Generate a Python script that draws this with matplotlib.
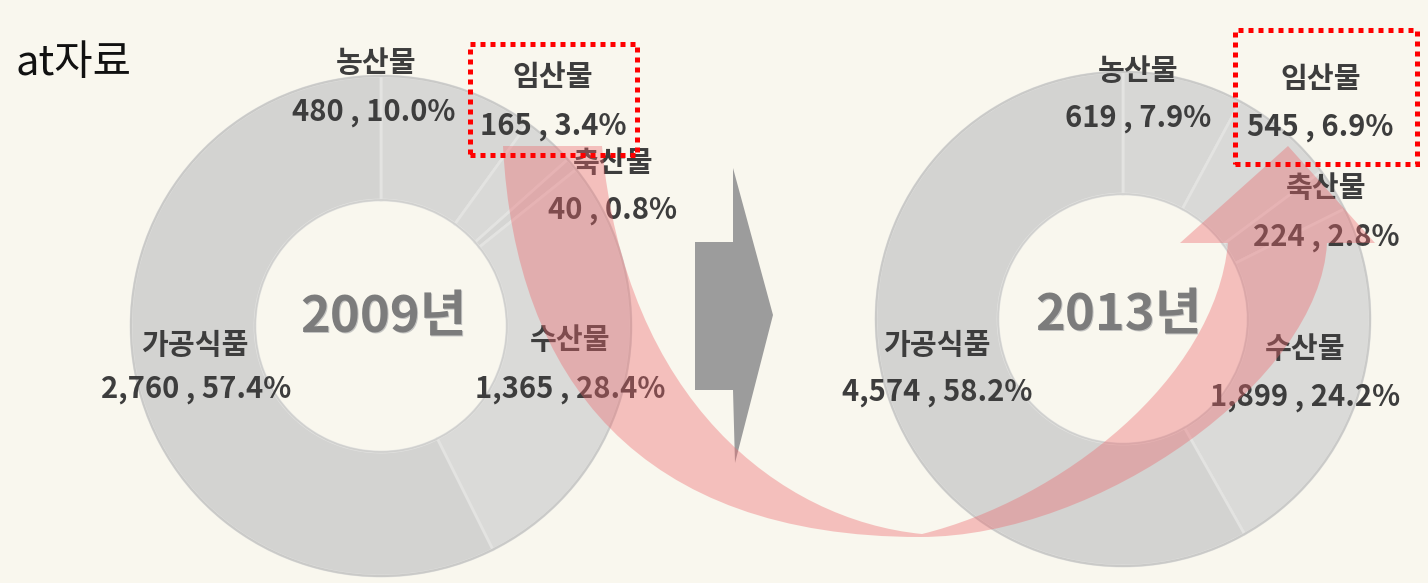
import matplotlib
matplotlib.use("Agg")
import matplotlib.pyplot as plt
from matplotlib.patches import Rectangle, Polygon, PathPatch, Circle
from matplotlib.path import Path

# ---------------- data ----------------
categories = ["농산물", "임산물", "축산물", "수산물", "가공식품"]
values_2009 = [480, 165, 40, 1365, 2760]
pct_2009 = [10.0, 3.4, 0.8, 28.4, 57.4]
values_2013 = [619, 545, 224, 1899, 4574]
pct_2013 = [7.9, 6.9, 2.8, 24.2, 58.2]
years = ["2009년", "2013년"]
source_label = "at자료"

# ---------------- layout (pixel coords, y downward) ----------------
W, H = 1428, 583
def Y(y):
    return H - y

donut_layout = [
    dict(center=(381, 326), radius=250, width=124,
         name_pos=[(376, 63), (553, 77), (613, 163), (570, 340), (195, 345)],
         val_pos=[(374, 112), (553, 126), (613, 210), (570, 389), (196, 389)],
         year_pos=(383, 317), box=(470, 44, 637, 155)),
    dict(center=(1123, 319), radius=247, width=122,
         name_pos=[(1138, 71), (1321, 79), (1326, 188), (1305, 349), (937, 345)],
         val_pos=[(1138, 118), (1320, 127), (1326, 237), (1305, 397), (937, 392)],
         year_pos=(1118, 315), box=(1235, 30, 1417, 164)),
]
wedge_colors = ["#d7d7d5", "#d9d9d7", "#d5d5d3", "#dadad8", "#d3d3d1"]
bg = "#f9f7ee"
text_color = "#3d3d3d"
FONT = ["Noto Sans CJK KR", "DejaVu Sans"]

fig = plt.figure(figsize=(W / 100, H / 100), dpi=100, facecolor=bg)
ax = fig.add_axes([0, 0, 1, 1])
ax.set_facecolor(bg)

datasets = [(values_2009, pct_2009), (values_2013, pct_2013)]
for (vals, pcts), lay, year in zip(datasets, donut_layout, years):
    cx, cy = lay["center"]
    ax.pie(vals, center=(cx, Y(cy)), radius=lay["radius"], startangle=90,
           counterclock=False, colors=wedge_colors,
           wedgeprops=dict(width=lay["width"], edgecolor="#e3e3e1",
                           linewidth=2.0, zorder=1))
    ax.add_patch(Circle((cx, Y(cy)), lay["radius"], fill=False,
                        edgecolor="#cacac8", linewidth=1.5, zorder=1.5))
    ax.add_patch(Circle((cx, Y(cy)), lay["radius"] - lay["width"], fill=False,
                        edgecolor="#d0d0ce", linewidth=1.2, zorder=1.5))
    for cat, v, p, npos, vpos in zip(categories, vals, pcts,
                                     lay["name_pos"], lay["val_pos"]):
        ax.text(npos[0], Y(npos[1]), cat, ha="center", va="center",
                fontsize=21, fontweight="bold", color=text_color,
                family=FONT, zorder=3)
        ax.text(vpos[0], Y(vpos[1]), f"{v:,} , {p:.1f}%", ha="center",
                va="center", fontsize=21, fontweight="bold",
                color=text_color, family=FONT, zorder=3)
    ax.text(lay["year_pos"][0] + 1.5, Y(lay["year_pos"][1]) - 1.5, year,
            ha="center", va="center", fontsize=36.5, fontweight="bold",
            color="#c4c4c2", family=FONT, zorder=2.9)
    ax.text(lay["year_pos"][0], Y(lay["year_pos"][1]), year, ha="center",
            va="center", fontsize=36.5, fontweight="bold", color="#7c7c7c",
            family=FONT, zorder=3)
    x0, y0, x1, y1 = lay["box"]
    ax.add_patch(Rectangle((x0, Y(y1)), x1 - x0, y1 - y0, fill=False,
                           edgecolor="#ff0000", linewidth=3.6,
                           linestyle=(0, (1, 1)), zorder=6))

# grey chevron arrow between the charts
chev = [(733, 168), (773, 315), (735, 463), (733, 390), (695, 390),
        (695, 242), (733, 242)]
ax.add_patch(Polygon([(x, Y(y)) for x, y in chev], closed=True,
                     facecolor="#9c9c9c", edgecolor="none", zorder=2))

# red curved arrow
pts = [(503, 146), (515, 380), (640, 537), (920, 537),
       (1100, 537), (1320, 380), (1327, 243),
       (1375, 243), (1288, 146), (1180, 243), (1228, 243),
       (1215, 380), (1060, 500), (922, 534),
       (780, 520), (625, 400), (602, 146), (503, 146)]
codes = [Path.MOVETO, Path.CURVE4, Path.CURVE4, Path.CURVE4,
         Path.CURVE4, Path.CURVE4, Path.CURVE4,
         Path.LINETO, Path.LINETO, Path.LINETO, Path.LINETO,
         Path.CURVE4, Path.CURVE4, Path.CURVE4,
         Path.CURVE4, Path.CURVE4, Path.CURVE4, Path.CLOSEPOLY]
arrow = Path([(x, Y(y)) for x, y in pts], codes)
ax.add_patch(PathPatch(arrow, facecolor=(0.93, 0.40, 0.42), alpha=0.38,
                       edgecolor="none", zorder=5))

ax.text(16, Y(63), source_label, ha="left", va="center", fontsize=30,
        color="#111111", family=FONT, zorder=7)

ax.set_xlim(0, W)
ax.set_ylim(0, H)
ax.set_aspect("auto")
ax.axis("off")
fig.savefig("out.png", dpi=100, facecolor=bg)
